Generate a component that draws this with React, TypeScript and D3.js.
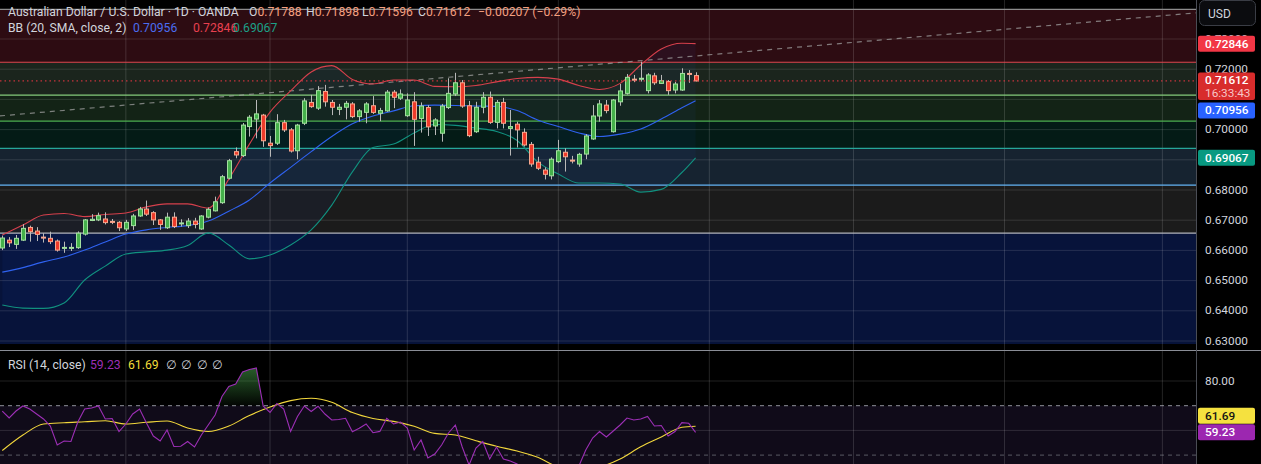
import * as d3 from "d3";

const W = 1261;
const H = 464;
const PANE_R = 1196; // right edge of the plot area, the price axis starts here
const MAIN_B = 350; // bottom of the price pane
const FONT = "Roboto, 'Noto Sans', 'DejaVu Sans', sans-serif";

// ---- AUD/USD 1D (OANDA) ----
const opens = [
  0.6608, 0.6634, 0.662, 0.6634, 0.6676, 0.6664, 0.6644, 0.664, 0.6631, 0.6607,
  0.6608, 0.6609, 0.6654, 0.6699, 0.6701, 0.6704, 0.6696, 0.6693, 0.6671, 0.6682,
  0.6714, 0.6737, 0.6725, 0.6701, 0.6675, 0.671, 0.6689, 0.6682, 0.6697, 0.6671,
  0.671, 0.6731, 0.6758, 0.6839, 0.6927, 0.6914, 0.701, 0.7035, 0.7048, 0.6955,
  0.6955, 0.7023, 0.6999, 0.693, 0.7021, 0.709, 0.7071, 0.7126, 0.709, 0.7067,
  0.7074, 0.7085, 0.7043, 0.7057, 0.7079, 0.7054, 0.7062, 0.7124, 0.7104, 0.7046,
  0.7092, 0.7037, 0.7073, 0.7012, 0.6988, 0.7073, 0.7118, 0.7155, 0.7079, 0.6993,
  0.7074, 0.7107, 0.7024, 0.709, 0.7004, 0.7018, 0.6991, 0.6951, 0.6892, 0.6866,
  0.6847, 0.6894, 0.6925, 0.6899, 0.6886, 0.6919, 0.6969, 0.7045, 0.7081, 0.6993,
  0.7092, 0.712, 0.7167, 0.7167, 0.7129, 0.7178, 0.7153, 0.7159, 0.7131, 0.7131,
  0.7186, 0.71788,
];
const highs = [
  0.6649, 0.6644, 0.6651, 0.6687, 0.6682, 0.6677, 0.6657, 0.6662, 0.6636, 0.6629,
  0.6624, 0.6663, 0.6704, 0.672, 0.6725, 0.6726, 0.6704, 0.6697, 0.6701, 0.6721,
  0.6744, 0.6765, 0.673, 0.6704, 0.6725, 0.6726, 0.6703, 0.6707, 0.6708, 0.6717,
  0.6742, 0.6778, 0.685, 0.6903, 0.6941, 0.7022, 0.7048, 0.7098, 0.7052, 0.6979,
  0.7051, 0.7032, 0.7005, 0.7019, 0.7104, 0.7115, 0.7144, 0.7148, 0.7098, 0.7085,
  0.7095, 0.7091, 0.7068, 0.7091, 0.7111, 0.7072, 0.7131, 0.7131, 0.7133, 0.712,
  0.7124, 0.709, 0.7081, 0.7038, 0.7085, 0.717, 0.7188, 0.7164, 0.7095, 0.7092,
  0.7124, 0.7126, 0.7098, 0.7105, 0.7065, 0.7026, 0.7004, 0.6959, 0.691, 0.6875,
  0.6908, 0.6966, 0.6938, 0.6913, 0.6923, 0.6985, 0.7081, 0.7098, 0.7098, 0.7101,
  0.7151, 0.7184, 0.7181, 0.7225, 0.7187, 0.7188, 0.7181, 0.7164, 0.7158, 0.7203,
  0.7197, 0.71898,
];
const lows = [
  0.6601, 0.6611, 0.6605, 0.6631, 0.6629, 0.6631, 0.6626, 0.6621, 0.6596, 0.6592,
  0.6598, 0.6605, 0.6649, 0.6697, 0.6697, 0.6686, 0.6687, 0.6664, 0.6664, 0.6668,
  0.6711, 0.6714, 0.6684, 0.6668, 0.6671, 0.6674, 0.6679, 0.6674, 0.6673, 0.6668,
  0.6706, 0.6729, 0.6754, 0.6835, 0.6905, 0.6909, 0.6977, 0.6971, 0.6943, 0.691,
  0.6949, 0.6992, 0.6924, 0.6902, 0.7015, 0.7072, 0.7065, 0.7076, 0.7048, 0.7048,
  0.7034, 0.7038, 0.7026, 0.7021, 0.7052, 0.7028, 0.7059, 0.7071, 0.7098, 0.7042,
  0.6946, 0.699, 0.6979, 0.6982, 0.696, 0.7068, 0.7111, 0.7072, 0.6975, 0.6989,
  0.7054, 0.7019, 0.7004, 0.7004, 0.6914, 0.6941, 0.6944, 0.6877, 0.6866, 0.6835,
  0.6835, 0.6889, 0.6861, 0.6888, 0.6877, 0.6902, 0.6966, 0.7026, 0.7054, 0.699,
  0.7079, 0.7116, 0.7157, 0.7159, 0.712, 0.7148, 0.7151, 0.7115, 0.712, 0.7128,
  0.7155, 0.71596,
];
const closes = [
  0.6641, 0.6625, 0.664, 0.6673, 0.6662, 0.6653, 0.6642, 0.6629, 0.6601, 0.661,
  0.661, 0.6657, 0.6701, 0.6703, 0.6715, 0.6692, 0.6694, 0.6675, 0.6693, 0.6714,
  0.6737, 0.672, 0.6701, 0.6686, 0.671, 0.6679, 0.6691, 0.6697, 0.6686, 0.6714,
  0.6736, 0.6761, 0.6844, 0.6897, 0.6916, 0.7015, 0.7041, 0.7052, 0.6963, 0.6947,
  0.7023, 0.6999, 0.6929, 0.7015, 0.7095, 0.7076, 0.7129, 0.7092, 0.7074, 0.7074,
  0.7087, 0.7043, 0.7062, 0.7085, 0.7057, 0.7063, 0.7124, 0.7107, 0.7118, 0.7098,
  0.7034, 0.7078, 0.7009, 0.7032, 0.7078, 0.712, 0.7155, 0.7078, 0.698, 0.7074,
  0.7107, 0.7024, 0.709, 0.7021, 0.701, 0.6999, 0.6949, 0.6886, 0.6872, 0.6852,
  0.6902, 0.693, 0.691, 0.6896, 0.6918, 0.6979, 0.7045, 0.7085, 0.7063, 0.7098,
  0.7128, 0.7173, 0.7164, 0.717, 0.7181, 0.7155, 0.7162, 0.7129, 0.7151, 0.7186,
  0.7184, 0.71612,
];

// Bollinger Bands (20, SMA, close, 2) read at every third bar
const bandIdx = [
  0, 3, 6, 9, 12, 15, 18, 21, 24, 27, 30, 33, 36, 39, 42, 45, 48, 51, 54, 57, 60,
  63, 66, 69, 72, 75, 78, 81, 84, 87, 90, 93, 96, 99, 101,
];
const bbUpper = [
  0.6651, 0.6684, 0.6717, 0.6722, 0.6712, 0.6719, 0.6724, 0.6744, 0.6754, 0.6754,
  0.674, 0.6836, 0.6952, 0.7058, 0.7128, 0.7191, 0.7212, 0.7166, 0.7151, 0.7164,
  0.7164, 0.7143, 0.7142, 0.7146, 0.7158, 0.7169, 0.7173, 0.7167, 0.7146, 0.7133,
  0.7153, 0.7214, 0.7267, 0.7286, 0.72846,
];
const bbBasis = [
  0.6528, 0.6543, 0.6562, 0.6578, 0.6601, 0.6628, 0.6654, 0.6668, 0.6676, 0.6682,
  0.6697, 0.673, 0.6767, 0.6823, 0.6875, 0.6927, 0.6977, 0.7019, 0.7045, 0.7062,
  0.7079, 0.7081, 0.708, 0.7078, 0.7077, 0.7063, 0.7032, 0.701, 0.6989, 0.6977,
  0.6985, 0.7002, 0.7035, 0.7072, 0.70956,
];
const bbLower = [
  0.6419, 0.6409, 0.6408, 0.6426, 0.6502, 0.6548, 0.6588, 0.6595, 0.6601, 0.6616,
  0.6658, 0.6618, 0.6572, 0.6585, 0.6618, 0.6668, 0.675, 0.686, 0.6941, 0.6952,
  0.6989, 0.7017, 0.7014, 0.7005, 0.6994, 0.6964, 0.6893, 0.6853, 0.6823, 0.6823,
  0.682, 0.6793, 0.6802, 0.6858, 0.69067,
];

// RSI (14, close), one value per bar, and its MA read at every third bar
const rsi = [
  67.85, 65.02, 67.85, 69.9, 68.66, 66.64, 64.62, 61.78, 54.09, 55.71,
  55.51, 63.4, 68.66, 69.07, 69.9, 64.62, 64.82, 59.55, 62.59, 66.64,
  68.66, 63.0, 57.73, 55.71, 60.16, 53.48, 53.6, 55.51, 53.28, 58.14,
  62.19, 66.23, 73.72, 77.77, 78.79, 83.64, 84.66, 85.26, 69.9, 67.25,
  70.9, 68.66, 59.55, 65.63, 69.88, 67.65, 69.8, 66.64, 64.21, 64.41,
  64.9, 59.47, 60.85, 62.59, 59.07, 59.6, 64.9, 62.59, 63.4, 60.97,
  52.06, 56.11, 48.83, 50.45, 54.09, 58.95, 62.19, 53.28, 45.99, 52.87,
  55.51, 48.42, 53.28, 48.42, 47.61, 46.4, 43.97, 39.11, 37.49, 35.87,
  40.73, 43.56, 42.35, 41.94, 45.59, 52.06, 56.92, 59.55, 57.33, 59.76,
  62.19, 65.02, 64.21, 64.62, 65.63, 61.78, 62.0, 57.73, 59.55, 63.12,
  62.87, 59.23,
];
const rsiMa = [
  51.86, 58.14, 62.59, 63.12, 63.48, 63.89, 62.59, 63.28, 63.81, 60.97, 59.55,
  61.78, 66.03, 69.47, 72.06, 73.0, 71.38, 67.21, 64.82, 63.64, 61.66, 58.79,
  58.14, 55.79, 53.56, 51.66, 49.11, 45.18, 43.97, 45.18, 48.42, 53.36, 57.33,
  61.26, 61.69,
];

// drawings: stacked horizontal zones (price edges, top to bottom) and a trend line
const zoneEdges = [0.7398, 0.7223, 0.7114, 0.7028, 0.6938, 0.6816, 0.6657, 0.629];
const trendIdx = [0, 170];
const trendPrice = [0.7046, 0.7379];

// axis / grid
const gridLevels = [0.63, 0.64, 0.65, 0.66, 0.67, 0.68, 0.69, 0.7, 0.71, 0.72, 0.73];
const priceTicks = [0.73, 0.72, 0.7, 0.68, 0.67, 0.66, 0.65, 0.64, 0.63];
const monthIdx = [18, 39, 59, 81, 103, 124, 146, 169];
const rsiGrid = [80, 60];

const zoneFills = ["#2d0c12", "#1b251d", "#132316", "#041b16", "#162330", "#1b1b1b", "#07133a"];
const zoneLines = ["#8c8c8c", "#e0474f", "#86cc7c", "#4caf50", "#26a69a", "#64b5f6", "#b2b5be"];

const UP_FILL = "#45b04b";
const UP_EDGE = "#a3e09f";
const DN_FILL = "#ee3b2b";
const DN_EDGE = "#f7a88e";
const WICK = "#b9b9b9";

const x = d3.scaleLinear().domain([0, 101]).range([2.3, 695.6]);
const y = d3.scaleLinear().domain([0.63, 0.72]).range([341, 69.2]);
const yr = d3.scaleLinear().domain([50, 80]).range([455.1, 381]);

function Label({ cy, bg, text, fg = "#ffffff" }: { cy: number; bg: string; text: string; fg?: string }) {
  return (
    <g>
      <rect x={1198} y={cy - 8} width={57} height={16} rx={2} fill={bg} />
      <text x={1205} y={cy + 4} fill={fg} fontSize={11.8} fontWeight={500}>
        {text}
      </text>
    </g>
  );
}

export default function App() {
  const bandLine = (vals: number[]) =>
    d3
      .line<number>()
      .x((_, k) => x(bandIdx[k]))
      .y((v) => y(v))
      .curve(d3.curveMonotoneX)(vals) || "";

  const bandArea =
    d3
      .area<number>()
      .x((_, k) => x(bandIdx[k]))
      .y0((_, k) => y(bbLower[k]))
      .y1((v) => y(v))
      .curve(d3.curveMonotoneX)(bbUpper) || "";

  const rsiPath =
    d3
      .line<number>()
      .x((_, i) => x(i))
      .y((v) => yr(v))(rsi) || "";

  const rsiMaPath =
    d3
      .line<number>()
      .x((_, k) => x(bandIdx[k]))
      .y((v) => yr(v))
      .curve(d3.curveMonotoneX)(rsiMa) || "";

  const obArea =
    d3
      .area<number>()
      .x((_, i) => x(i))
      .y0(yr(70))
      .y1((v) => yr(Math.max(v, 70)))(rsi) || "";

  const slope = (trendPrice[1] - trendPrice[0]) / (trendIdx[1] - trendIdx[0]);
  const trendAt = (t: number) => trendPrice[0] + (t - trendIdx[0]) * slope;
  const t0 = x.invert(0);
  const t1 = x.invert(PANE_R);

  const last = closes.length - 1;
  const lastY = y(closes[last]);
  const lastBoxTop = lastY - 8.5;
  const lastBoxBottom = lastBoxTop + 27.5;

  // axis labels are pushed apart so they never overlap, as on the original
  const upperLabelY = Math.min(y(bbUpper[bbUpper.length - 1]), lastBoxTop - 9.5);
  const basisLabelY = Math.max(y(bbBasis[bbBasis.length - 1]), lastBoxBottom + 10.5);
  const lowerLabelY = Math.max(y(bbLower[bbLower.length - 1]), basisLabelY + 17);

  const rsiLast = rsi[rsi.length - 1];
  const maLast = rsiMa[rsiMa.length - 1];
  const rsiLabelY = yr(rsiLast);
  const maLabelY = Math.min(yr(maLast), rsiLabelY - 16.5);

  return (
    <div style={{ width: W, height: H, overflow: "hidden", background: "#000" }}>
      <style>{`html,body{margin:0;padding:0;background:#000;overflow:hidden}`}</style>
      <svg width={W} height={H} fontFamily={FONT} style={{ display: "block" }}>
        <defs>
          <clipPath id="main">
            <rect x={0} y={0} width={PANE_R} height={MAIN_B} />
          </clipPath>
          <clipPath id="osc">
            <rect x={0} y={MAIN_B + 1} width={PANE_R} height={H - MAIN_B} />
          </clipPath>
          <linearGradient id="ob" gradientUnits="userSpaceOnUse" x1={0} x2={0} y1={yr(86)} y2={yr(70)}>
            <stop offset="0%" stopColor="#4caf50" stopOpacity={0.55} />
            <stop offset="100%" stopColor="#4caf50" stopOpacity={0.03} />
          </linearGradient>
        </defs>

        <rect width={W} height={H} fill="#000" />

        {/* ---------- price pane ---------- */}
        <g clipPath="url(#main)">
          {zoneFills.map((f, i) => (
            <rect
              key={"z" + i}
              x={0}
              width={PANE_R}
              y={y(zoneEdges[i])}
              height={y(zoneEdges[i + 1]) - y(zoneEdges[i])}
              fill={f}
            />
          ))}

          <path d={bandArea} fill="#2962ff" fillOpacity={0.05} />

          {gridLevels.map((p) => (
            <line key={"g" + p} x1={0} x2={PANE_R} y1={y(p)} y2={y(p)} stroke="#ffffff" strokeOpacity={0.12} />
          ))}
          {monthIdx.map((m) => (
            <line key={"v" + m} x1={x(m)} x2={x(m)} y1={0} y2={MAIN_B} stroke="#ffffff" strokeOpacity={0.14} />
          ))}

          {zoneLines.map((c, i) => (
            <line key={"zl" + i} x1={0} x2={PANE_R} y1={y(zoneEdges[i])} y2={y(zoneEdges[i])} stroke={c} strokeWidth={1.2} />
          ))}

          <line
            x1={0}
            x2={PANE_R}
            y1={y(trendAt(t0))}
            y2={y(trendAt(t1))}
            stroke="#a0a0a0"
            strokeOpacity={0.75}
            strokeWidth={1.2}
            strokeDasharray="5 5"
          />

          <path d={bandLine(bbUpper)} fill="none" stroke="#d6404c" strokeWidth={1.1} />
          <path d={bandLine(bbBasis)} fill="none" stroke="#2f62f0" strokeWidth={1.1} />
          <path d={bandLine(bbLower)} fill="none" stroke="#11917f" strokeWidth={1.1} />

          {opens.map((o, i) => {
            const c = closes[i];
            const up = c >= o;
            const cx = Math.round(x(i)) + 0.5;
            const top = y(Math.max(o, c));
            const bot = y(Math.min(o, c));
            return (
              <g key={"c" + i}>
                <line x1={cx} x2={cx} y1={y(highs[i])} y2={y(lows[i])} stroke={WICK} strokeWidth={1} />
                <rect
                  x={cx - 2}
                  y={top}
                  width={4}
                  height={Math.max(bot - top, 1)}
                  fill={up ? UP_FILL : DN_FILL}
                  stroke={up ? UP_EDGE : DN_EDGE}
                  strokeWidth={1}
                />
              </g>
            );
          })}

          <line x1={0} x2={PANE_R} y1={lastY} y2={lastY} stroke="#f23645" strokeWidth={1} strokeDasharray="1.5 3" />
        </g>

        {/* legend */}
        <text x={8} y={15.5} fontSize={12.2} fill="#d1d4dc">
          Australian Dollar / U.S. Dollar · 1D · OANDA
        </text>
        <text y={15.5} fontSize={12.2}>
          <tspan x={249} fill="#d1d4dc">O</tspan>
          <tspan fill="#f39f7f">{opens[last].toFixed(5)}</tspan>
          <tspan x={306} fill="#d1d4dc">H</tspan>
          <tspan fill="#f39f7f">{highs[last].toFixed(5)}</tspan>
          <tspan x={362} fill="#d1d4dc">L</tspan>
          <tspan fill="#f39f7f">{lows[last].toFixed(5)}</tspan>
          <tspan x={418} fill="#d1d4dc">C</tspan>
          <tspan fill="#f39f7f">{closes[last].toFixed(5)}</tspan>
          <tspan x={478} fill="#f39f7f">−0.00207 (−0.29%)</tspan>
        </text>
        <text y={31.5} fontSize={12.2}>
          <tspan x={8} fill="#d1d4dc">BB (20, SMA, close, 2)</tspan>
          <tspan x={133} fill="#4a6cf0">{bbBasis[bbBasis.length - 1].toFixed(5)}</tspan>
          <tspan x={193} fill="#e8404f">{bbUpper[bbUpper.length - 1].toFixed(5)}</tspan>
          <tspan x={233} fill="#1ca088">{bbLower[bbLower.length - 1].toFixed(5)}</tspan>
        </text>

        {/* ---------- RSI pane ---------- */}
        <g clipPath="url(#osc)">
          <rect x={0} y={yr(70)} width={PANE_R} height={H - yr(70)} fill="#7e57c2" fillOpacity={0.13} />
          {rsiGrid.map((v) => (
            <line key={"rg" + v} x1={0} x2={PANE_R} y1={yr(v)} y2={yr(v)} stroke="#ffffff" strokeOpacity={0.13} />
          ))}
          {monthIdx.map((m) => (
            <line key={"rv" + m} x1={x(m)} x2={x(m)} y1={MAIN_B} y2={H} stroke="#ffffff" strokeOpacity={0.14} />
          ))}
          <line x1={0} x2={PANE_R} y1={yr(70)} y2={yr(70)} stroke="#b2b5be" strokeOpacity={0.8} strokeDasharray="4 4" />
          <line x1={0} x2={PANE_R} y1={yr(50)} y2={yr(50)} stroke="#b2b5be" strokeOpacity={0.45} strokeDasharray="4 4" />
          <path d={obArea} fill="url(#ob)" />
          <path d={rsiMaPath} fill="none" stroke="#f2d73c" strokeWidth={1.1} />
          <path d={rsiPath} fill="none" stroke="#9c2fb5" strokeWidth={1.1} />
        </g>
        <text y={369} fontSize={12.2}>
          <tspan x={8} fill="#d1d4dc">RSI (14, close)</tspan>
          <tspan x={90} fill="#9c2fb5">{rsiLast.toFixed(2)}</tspan>
          <tspan x={128} fill="#f2dc3a">{maLast.toFixed(2)}</tspan>
          <tspan x={166} fill="#d1d4dc">∅</tspan>
          <tspan x={181} fill="#d1d4dc">∅</tspan>
          <tspan x={197} fill="#d1d4dc">∅</tspan>
          <tspan x={212} fill="#d1d4dc">∅</tspan>
        </text>

        {/* pane separators */}
        <line x1={0} x2={W} y1={MAIN_B + 0.5} y2={MAIN_B + 0.5} stroke="#8a8d96" />
        <line x1={PANE_R + 0.5} x2={PANE_R + 0.5} y1={0} y2={H} stroke="#4a4d55" />

        {/* ---------- price axis ---------- */}
        {priceTicks.map((p) => (
          <text key={"t" + p} x={1205} y={y(p) + 3.6} fontSize={11.8} fill="#d1d4dc">
            {p.toFixed(5)}
          </text>
        ))}
        <Label cy={upperLabelY} bg="#f23645" text={bbUpper[bbUpper.length - 1].toFixed(5)} />
        <g>
          <rect x={1198} y={lastBoxTop} width={57} height={lastBoxBottom - lastBoxTop} rx={2} fill="#d82c2c" />
          <text x={1205} y={lastY + 3.5} fill="#ffffff" fontSize={11.8} fontWeight={500}>
            {closes[last].toFixed(5)}
          </text>
          <text x={1205} y={lastY + 16} fill="#f7c6c6" fontSize={11.8}>
            16:33:43
          </text>
        </g>
        <Label cy={basisLabelY} bg="#2962ff" text={bbBasis[bbBasis.length - 1].toFixed(5)} />
        <Label cy={lowerLabelY} bg="#089981" text={bbLower[bbLower.length - 1].toFixed(5)} />

        <rect x={1199.5} y={0.5} width={56} height={25} rx={5} fill="#0b0c0f" stroke="#3a3d45" />
        <text x={1208} y={17.5} fontSize={12} fill="#d1d4dc">
          USD
        </text>

        <text x={1205} y={yr(80) + 4} fontSize={11.8} fill="#d1d4dc">
          80.00
        </text>
        <Label cy={maLabelY} bg="#f5e13f" fg="#131313" text={maLast.toFixed(2)} />
        <Label cy={rsiLabelY} bg="#9c27b0" text={rsiLast.toFixed(2)} />
      </svg>
    </div>
  );
}
